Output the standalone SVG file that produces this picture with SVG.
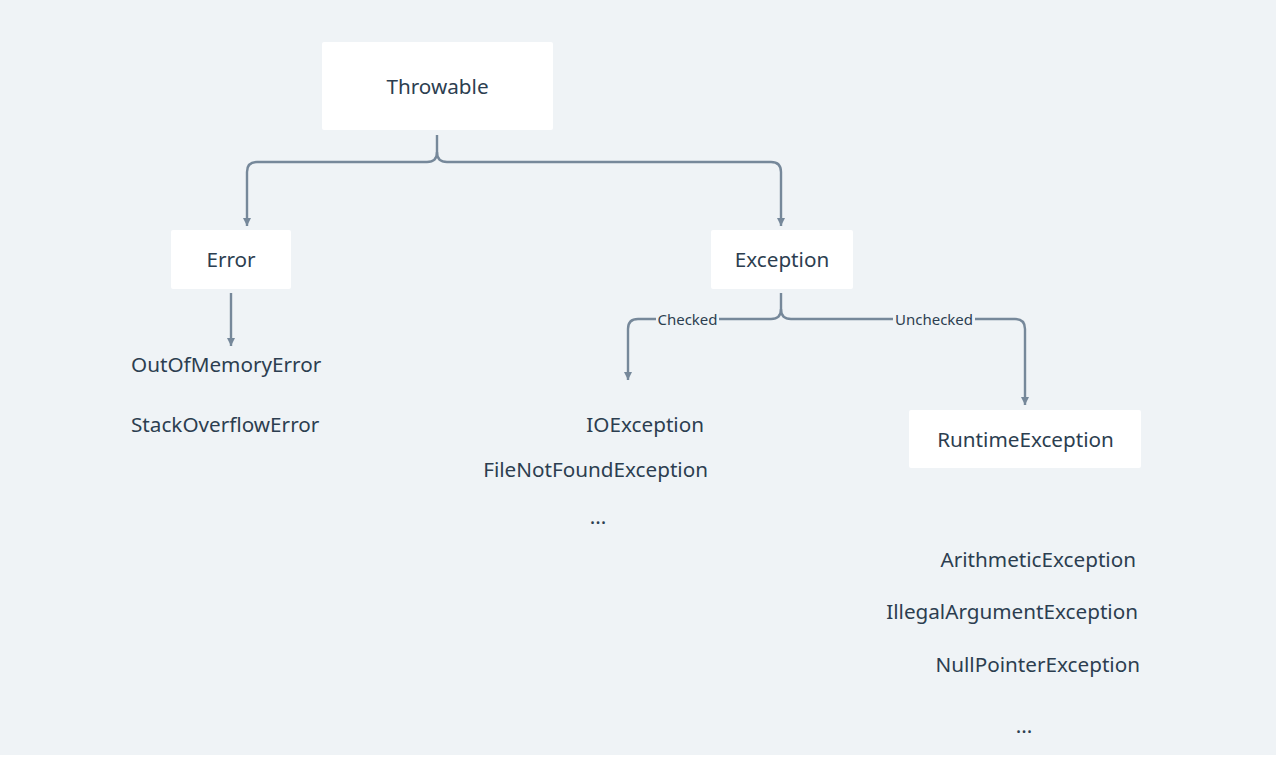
<svg xmlns="http://www.w3.org/2000/svg" width="1276" height="757" viewBox="0 0 1276 757">
<style>
.box{fill:#ffffff;}
.t{font-family:"Noto Sans","DejaVu Sans",sans-serif;font-size:20.7px;fill:#2c3e50;}
.lbl{font-family:"Noto Sans","DejaVu Sans",sans-serif;font-size:15px;fill:#2c3e50;}
.edge{fill:none;stroke:#76889a;stroke-width:2.4;}
.lblbg{fill:#eff3f6;}
</style>
<defs>
<marker id="arr" viewBox="0 0 10 10" refX="10" refY="5" markerWidth="3.4" markerHeight="3.4" orient="auto" markerUnits="strokeWidth">
<path d="M0,0 L10,5 L0,10 z" fill="#76889a"/>
</marker>
</defs>
<rect x="0" y="0" width="1276" height="755" fill="#eff3f6"/>
<rect x="0" y="755" width="1276" height="2" fill="#ffffff"/>

<g id="connectors">
<path class="edge" d="M437,135 V152 Q437,162 427,162 H257 Q247,162 247,172 V226" marker-end="url(#arr)"/>
<path class="edge" d="M437,152 Q437,162 447,162 H771 Q781,162 781,172 V226" marker-end="url(#arr)"/>
<path class="edge" d="M231,293 V346" marker-end="url(#arr)"/>
<path class="edge" d="M781,293 V309 Q781,319 771,319 H638 Q628,319 628,329 V380" marker-end="url(#arr)"/>
<path class="edge" d="M781,309 Q781,319 791,319 H1015 Q1025,319 1025,329 V405" marker-end="url(#arr)"/>
<rect class="lblbg" x="656" y="310" width="63" height="18"/>
<text class="lbl" x="687.5" y="324.5" text-anchor="middle">Checked</text>
<rect class="lblbg" x="893" y="310" width="82" height="18"/>
<text class="lbl" x="934" y="324.5" text-anchor="middle">Unchecked</text>
</g>

<g id="throwable">
<rect class="box" x="322" y="42" width="231" height="88" rx="2"/>
<text class="t" x="437.5" y="94" text-anchor="middle">Throwable</text>
</g>
<g id="error">
<rect class="box" x="171" y="230" width="120" height="59" rx="2"/>
<text class="t" x="231" y="267" text-anchor="middle">Error</text>
</g>
<g id="exception">
<rect class="box" x="711" y="230" width="142" height="59" rx="2"/>
<text class="t" x="782" y="267" text-anchor="middle">Exception</text>
</g>
<g id="runtimeexception">
<rect class="box" x="909" y="410" width="232" height="58" rx="2"/>
<text class="t" x="1025.5" y="447" text-anchor="middle">RuntimeException</text>
</g>
<g id="error-children">
<text class="t" x="131" y="372">OutOfMemoryError</text>
<text class="t" x="131" y="432">StackOverflowError</text>
</g>
<g id="checked-children">
<text class="t" x="704" y="432" text-anchor="end">IOException</text>
<text class="t" x="708" y="477" text-anchor="end">FileNotFoundException</text>
<text class="t" x="598" y="524" text-anchor="middle">...</text>
</g>
<g id="unchecked-children">
<text class="t" x="1136" y="567" text-anchor="end">ArithmeticException</text>
<text class="t" x="1138" y="619" text-anchor="end">IllegalArgumentException</text>
<text class="t" x="1140" y="672" text-anchor="end">NullPointerException</text>
<text class="t" x="1024" y="733" text-anchor="middle">...</text>
</g>
</svg>
